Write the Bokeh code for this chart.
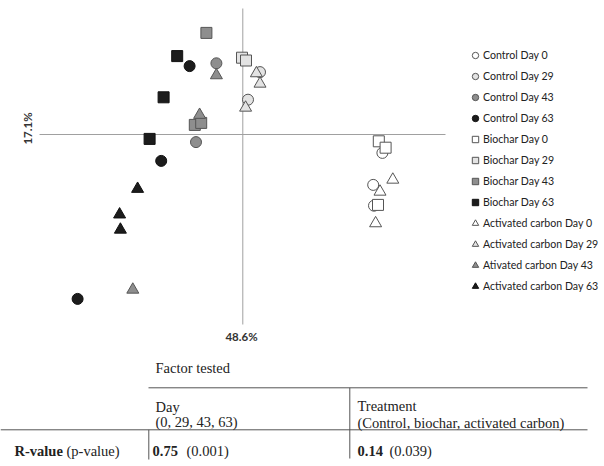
import math
from bokeh.plotting import figure
from bokeh.models import Legend, LegendItem, Label, Range1d
from bokeh.embed import file_html
from bokeh.resources import INLINE

# ---------------- data (PCoA coordinates, axis 1 = 48.6 %, axis 2 = 17.1 %) ----------------
control_d0_x = [0.349, 0.326, 0.328]
control_d0_y = [-0.046, -0.126, -0.178]
control_d29_x = [0.043, 0.013]
control_d29_y = [0.156, 0.087]
control_d43_x = [-0.066, -0.117]
control_d43_y = [0.178, -0.019]
control_d63_x = [-0.133, -0.204, -0.413]
control_d63_y = [0.171, -0.066, -0.411]

biochar_d0_x = [0.340, 0.357, 0.338]
biochar_d0_y = [-0.017, -0.033, -0.176]
biochar_d29_x = [-0.002, 0.008]
biochar_d29_y = [0.192, 0.185]
biochar_d43_x = [-0.091, -0.120, -0.104]
biochar_d43_y = [0.254, 0.024, 0.029]
biochar_d63_x = [-0.164, -0.198, -0.233]
biochar_d63_y = [0.196, 0.093, -0.011]

ac_d0_x = [0.375, 0.343, 0.332]
ac_d0_y = [-0.113, -0.143, -0.222]
ac_d29_x = [0.034, 0.043, 0.007]
ac_d29_y = [0.153, 0.127, 0.067]
ac_d43_x = [-0.066, -0.108, -0.275]
ac_d43_y = [0.148, 0.049, -0.388]
ac_d63_x = [-0.263, -0.308, -0.306]
ac_d63_y = [-0.136, -0.200, -0.238]

legend_labels = ["Control Day 0", "Control Day 29", "Control Day 43", "Control Day 63",
                 "Biochar Day 0", "Biochar Day 29", "Biochar Day 43", "Biochar Day 63",
                 "Activated carbon Day 0", "Activated carbon Day 29",
                 "Ativated carbon Day 43", "Activated carbon Day 63"]

axis1_label = "48.6%"
axis2_label = "17.1%"

table_title = "Factor tested"
col1_head = ["Day", "(0, 29, 43, 63)"]
col2_head = ["Treatment", "(Control, biochar, activated carbon)"]
row_label = ("R-value", "(p-value)")
day_result = ("0.75", "(0.001)")
treat_result = ("0.14", "(0.039)")

# ---------------- styles ----------------
day_fill = {0: "#ffffff", 29: "#e3e3e3", 43: "#8e8e8e", 63: "#1c1c1c"}
day_line = {0: "#555555", 29: "#555555", 43: "#555555", 63: "#111111"}

W, H = 604, 466
# mapping page pixel -> data / screen (layout helpers)
SCALE = 400.0
OX, OY = 242.3, 134.0
def dx(px):
    return (px - OX) / SCALE
def dy(py):
    return (OY - py) / SCALE
def sx(px):
    return px
def sy(py):
    return H - py

p = figure(width=W, height=H, x_range=Range1d(dx(0), dx(W)), y_range=Range1d(dy(H), dy(0)),
           output_backend="svg", toolbar_location=None, min_border=0,
           x_axis_location=None, y_axis_location=None, outline_line_color=None)
p.grid.visible = False

# crosshair axes
p.segment(x0=[0], y0=[dy(8)], x1=[0], y1=[dy(324)], line_color="#a0a0a0", line_width=1)
p.segment(x0=[dx(39)], y0=[0], x1=[dx(445)], y1=[0], line_color="#a0a0a0", line_width=1)

series = [
    (control_d0_x, control_d0_y, "circle", 0),
    (control_d29_x, control_d29_y, "circle", 29),
    (control_d43_x, control_d43_y, "circle", 43),
    (control_d63_x, control_d63_y, "circle", 63),
    (biochar_d0_x, biochar_d0_y, "square", 0),
    (biochar_d29_x, biochar_d29_y, "square", 29),
    (biochar_d43_x, biochar_d43_y, "square", 43),
    (biochar_d63_x, biochar_d63_y, "square", 63),
    (ac_d0_x, ac_d0_y, "triangle", 0),
    (ac_d29_x, ac_d29_y, "triangle", 29),
    (ac_d43_x, ac_d43_y, "triangle", 43),
    (ac_d63_x, ac_d63_y, "triangle", 63),
]
sizes = {"circle": 11, "square": 11, "triangle": 12}

items = []
for (xs, ys, marker, day), lab in zip(series, legend_labels):
    r = p.scatter(xs, ys, marker=marker, size=sizes[marker], fill_color=day_fill[day],
                  line_color=day_line[day], line_width=1)
    items.append(LegendItem(label=lab, renderers=[r]))

legend = Legend(items=items, location=(sx(467), 171), padding=0, margin=0, spacing=3,
                glyph_width=16, glyph_height=18, label_height=18, label_standoff=0,
                label_text_font="Lato", label_text_font_size="10.6px", label_text_color="#222222",
                border_line_color=None, background_fill_alpha=0)
p.add_layout(legend)

# axis labels
p.add_layout(Label(x=sx(27), y=sy(128), x_units="screen", y_units="screen", text=axis2_label,
                   angle=math.pi / 2, text_align="center", text_baseline="middle",
                   text_font="Lato", text_font_style="bold", text_font_size="11.5px",
                   text_color="#333333"))
p.add_layout(Label(x=sx(241), y=sy(336), x_units="screen", y_units="screen", text=axis1_label,
                   text_align="center", text_baseline="middle",
                   text_font="Lato", text_font_style="bold", text_font_size="11.5px",
                   text_color="#333333"))

# table
SERIF = "Liberation Serif"
FS = "14.5px"
def tlabel(px, py, txt, bold=False):
    p.add_layout(Label(x=sx(px), y=sy(py), x_units="screen", y_units="screen", text=txt,
                       text_align="left", text_baseline="alphabetic", text_font=SERIF,
                       text_font_size=FS, text_color="#222222",
                       text_font_style="bold" if bold else "normal"))

tlabel(155, 367.7, table_title)
tlabel(155, 406.7, col1_head[0])
tlabel(155, 421.7, col1_head[1])
tlabel(357, 405.3, col2_head[0])
tlabel(357, 422, col2_head[1])
tlabel(14, 450, row_label[0], bold=True)
tlabel(66, 450, row_label[1])
tlabel(152, 450, day_result[0], bold=True)
tlabel(186, 450, day_result[1])
tlabel(357, 450, treat_result[0], bold=True)
tlabel(389, 450, treat_result[1])

tl = "#555555"
p.segment(x0=[dx(148), dx(0), dx(148.3), dx(349.3)],
          y0=[dy(387.3), dy(429.3), dy(429.3), dy(387.3)],
          x1=[dx(587), dx(587), dx(148.3), dx(349.3)],
          y1=[dy(387.3), dy(429.3), dy(459), dy(458)],
          line_color=tl, line_width=1)

open("out.html", "w").write(file_html(p, INLINE))
